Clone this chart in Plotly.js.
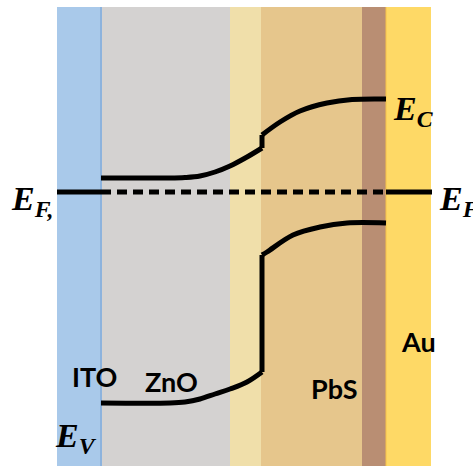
<!DOCTYPE html>
<html>
<head>
<meta charset="utf-8">
<script src="https://cdn.plot.ly/plotly-3.0.1.min.js"></script>
<style>html,body{margin:0;padding:0;background:#fff;}#chart{width:473px;height:466px;}</style>
</head>
<body>
<div id="chart"></div>
<script>
// Layer stack (x extents in picture units)
var layerNames = ["ITO", "ZnO", "interface", "PbS", "oxide", "Au"];
var layerStart = [57, 101, 230, 261, 362, 386];
var layerEnd   = [101, 230, 261, 362, 386, 431];
var layerColors = ["#a9c9ea", "#d4d2d1", "#f0dfaa", "#e6c68c", "#b98e73", "#fed966"];
var layerTop = 7, layerBottom = 466;

// Conduction band (E_C)
var ecX1 = [101, 170, 185, 200, 215, 230, 247, 262];
var ecY1 = [178, 178, 177.5, 176, 172, 166, 157, 148];
var ecX2 = [262, 262, 280, 300, 327, 352, 386];
var ecY2 = [148, 135, 122, 111, 103, 99.5, 99];

// Valence band (E_V)
var evX1 = [101, 170, 185, 200, 215, 230, 247, 262];
var evY1 = [403, 403, 402, 399, 394, 389, 382, 372];
var evX2 = [262, 262, 267, 293, 320, 347, 386];
var evY2 = [372, 255, 252, 235, 227, 223, 223];

// Fermi level
var efY = 192;
var efLeftX = [57, 101], efMidX = [101, 386], efRightX = [386, 432];

// Labels
var labelText = ["ITO", "ZnO", "PbS", "Au"];
var labelX = [70, 143, 309, 399];
var labelY = [395, 400, 407, 360];

var shapes = layerStart.map(function(s, i){
  return {type:"rect", xref:"x", yref:"y", x0:s, x1:layerEnd[i], y0:layerTop, y1:layerBottom,
    fillcolor:layerColors[i], line:{width:0}, layer:"below"};
});
// ITO right edge
shapes.push({type:"line", xref:"x", yref:"y", x0:layerEnd[0], x1:layerEnd[0], y0:layerTop, y1:layerBottom,
  line:{color:"#8db3dd", width:2}, layer:"below"});
// Au left edge
shapes.push({type:"line", xref:"x", yref:"y", x0:layerStart[5], x1:layerStart[5], y0:layerTop, y1:layerBottom,
  line:{color:"#f5c24a", width:1}, layer:"below"});

var traces = [];
function band(x, y, shape){
  return {type:"scatter", mode:"lines", x:x, y:y,
    line:{color:"#000", width:5, shape:shape || "spline", smoothing:1.0},
    hoverinfo:"skip", showlegend:false};
}
traces.push(band(ecX1, ecY1));
traces.push(band(ecX2.slice(0,2), ecY2.slice(0,2), "linear"));
traces.push(band(ecX2.slice(1), ecY2.slice(1)));
traces.push(band(evX1, evY1));
traces.push(band(evX2.slice(0,2), evY2.slice(0,2), "linear"));
traces.push(band(evX2.slice(1), evY2.slice(1)));
traces.push({type:"scatter", mode:"lines", x:efLeftX, y:[efY, efY], line:{color:"#000", width:5}, hoverinfo:"skip", showlegend:false});
traces.push({type:"scatter", mode:"lines", x:efMidX, y:[efY, efY], line:{color:"#000", width:5, dash:"10px,6px"}, hoverinfo:"skip", showlegend:false});
traces.push({type:"scatter", mode:"lines", x:efRightX, y:[efY, efY], line:{color:"#000", width:5}, hoverinfo:"skip", showlegend:false});

var serif = "Liberation Serif, DejaVu Serif, serif";
var sans = "Lato, Open Sans, sans-serif";
var ann = [];
labelText.forEach(function(t, i){
  ann.push({x: labelX[i], y: labelY[i], xref:"x", yref:"y", text:"<b>"+t+"</b>",
    showarrow:false, xanchor:"left", yanchor:"bottom",
    font:{family:sans, size:27, color:"#000"}});
});
function eLabel(sub, x, y){
  return {x:x, y:y, xref:"x", yref:"y", showarrow:false, xanchor:"left", yanchor:"middle",
    text:"<b><i>E</i></b><sub><b><i>"+sub+"</i></b></sub>",
    font:{family:serif, size:34, color:"#000"}};
}
ann.push(eLabel("F,", 9, 201));
ann.push(eLabel("F", 437, 201));
ann.push(eLabel("C", 391, 111));
ann.push(eLabel("V", 53, 438));

var layout = {
  width:473, height:466,
  margin:{l:0, r:0, t:0, b:0},
  paper_bgcolor:"#fff", plot_bgcolor:"rgba(0,0,0,0)",
  xaxis:{range:[0,473], visible:false, fixedrange:true},
  yaxis:{range:[466,0], visible:false, fixedrange:true},
  shapes: shapes,
  annotations: ann,
  showlegend:false
};
Plotly.newPlot("chart", traces, layout, {staticPlot:true, displayModeBar:false});
</script>
</body>
</html>
